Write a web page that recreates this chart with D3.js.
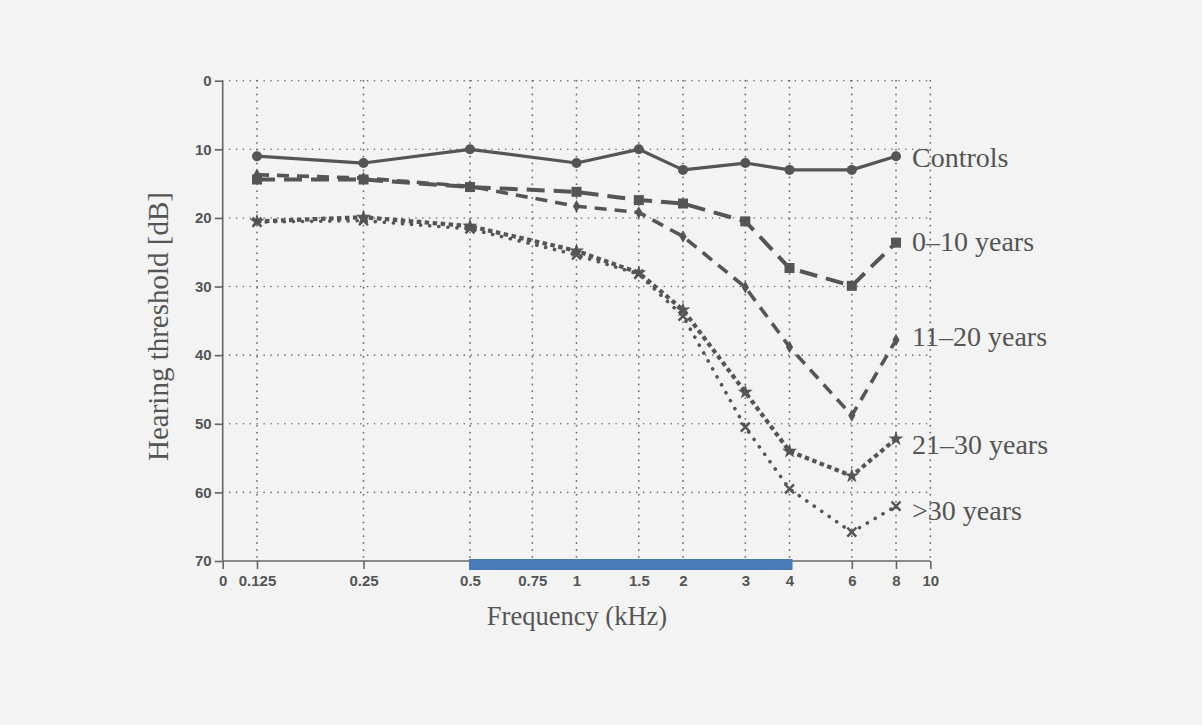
<!DOCTYPE html>
<html>
<head>
<meta charset="utf-8">
<script src="https://cdn.jsdelivr.net/npm/d3@7"></script>
<style>
  html, body { margin: 0; padding: 0; background: #f3f3f3; }
  svg { display: block; }
</style>
</head>
<body>
<svg id="chart" width="1202" height="725"></svg>
<script>
// ---------- data ----------
const freqs = [0.125, 0.25, 0.5, 1, 1.5, 2, 3, 4, 6, 8];
const seriesNames = ["Controls", "0\u201310 years", "11\u201320 years", "21\u201330 years", ">30 years"];
const controls   = [11, 12, 10, 12, 10, 13, 12, 13, 13, 11];
const years0_10  = [14.4, 14.4, 15.5, 16.2, 17.4, 17.9, 20.5, 27.3, 29.9, 23.6];
const years11_20 = [13.7, 14.2, 15.4, 18.3, 19.2, 22.7, 30.1, 38.8, 48.8, 37.8];
const years21_30 = [20.5, 19.9, 21.2, 24.8, 28.0, 33.4, 45.4, 54.0, 57.6, 52.2];
const years30p   = [20.6, 20.4, 21.6, 25.4, 28.2, 34.3, 50.5, 59.5, 65.8, 62.0];
const xTickValues = [0.1, 0.125, 0.25, 0.5, 0.75, 1, 1.5, 2, 3, 4, 6, 8, 10];
const xTickLabels = ["0", "0.125", "0.25", "0.5", "0.75", "1", "1.5", "2", "3", "4", "6", "8", "10"];
const yTickValues = [0, 10, 20, 30, 40, 50, 60, 70];
const highlightBand = [0.5, 4]; // kHz, blue bar on the axis

// ---------- layout ----------
const svg = d3.select("#chart");
const x = d3.scaleLog().domain([0.1, 10]).range([222.7, 930.3]);
const y = d3.scaleLinear().domain([0, 70]).range([80.7, 561]);
const ink = "#555";
const gridInk = "#6f6f6f";

// grid
const g = svg.append("g");
g.selectAll("line.hg").data(yTickValues.filter(v => v < 70)).join("line")
  .attr("x1", x(0.1)).attr("x2", x(10))
  .attr("y1", d => y(d)).attr("y2", d => y(d))
  .attr("stroke", gridInk).attr("stroke-width", 1.6)
  .attr("stroke-dasharray", "0.1,6.8").attr("stroke-linecap", "round");
g.selectAll("line.vg").data(xTickValues.filter(v => v > 0.1)).join("line")
  .attr("x1", d => x(d)).attr("x2", d => x(d))
  .attr("y1", y(0)).attr("y2", y(70))
  .attr("stroke", gridInk).attr("stroke-width", 1.8)
  .attr("stroke-dasharray", "0.1,6.8").attr("stroke-linecap", "round");

// axes
const yAxis = d3.axisLeft(y).tickValues(yTickValues).tickSize(8).tickPadding(3);
const yg = svg.append("g").attr("transform", `translate(${x(0.1)},0)`).call(yAxis);
const xAxis = d3.axisBottom(x).tickValues(xTickValues).tickSize(8).tickPadding(6)
  .tickFormat((d, i) => xTickLabels[i]);
const xg = svg.append("g").attr("transform", `translate(0,${y(70)})`).call(xAxis);
[yg, xg].forEach(a => {
  a.select(".domain").attr("stroke", "#666").attr("stroke-width", 1.6);
  a.selectAll(".tick line").attr("stroke", "#666").attr("stroke-width", 1.6);
  a.selectAll(".tick text").attr("fill", ink)
    .style("font-family", "'Liberation Sans', Arial, sans-serif")
    .style("font-size", "15px").style("font-weight", "bold");
});
yg.select(".domain").attr("d", `M0,${y(0)}V${y(70)}`);
xg.select(".domain").attr("d", `M${x(0.1)},0H${x(10)}`);

// highlight bar
svg.append("rect")
  .attr("x", x(highlightBand[0]) - 1)
  .attr("y", y(70) - 2)
  .attr("width", x(highlightBand[1]) - x(highlightBand[0]) + 4)
  .attr("height", 11)
  .attr("fill", "#4a7bb9");

// series
const series = [
  {name: seriesNames[0], values: controls,   dash: null,       width: 3.2, marker: "circle"},
  {name: seriesNames[1], values: years0_10,  dash: "18,9",     width: 4,   marker: "square"},
  {name: seriesNames[2], values: years11_20, dash: "12,8",     width: 3.6, marker: "diamond"},
  {name: seriesNames[3], values: years21_30, dash: "4.5,3.5",  width: 4.2, marker: "star"},
  {name: seriesNames[4], values: years30p,   dash: "0.1,9",    width: 3.6, marker: "x", cap: "round"}
];
const labelY = [157, 241, 336, 444, 510];

const line = d3.line().x(d => x(d[0])).y(d => y(d[1]));
series.forEach((s, si) => {
  const pts = freqs.map((f, i) => [f, s.values[i]]);
  svg.append("path").datum(pts)
    .attr("d", line).attr("fill", "none")
    .attr("stroke", ink).attr("stroke-width", s.width)
    .attr("stroke-linecap", s.cap || "butt")
    .attr("stroke-linejoin", "round")
    .attr("stroke-dasharray", s.dash);
  const mg = svg.append("g");
  pts.forEach(p => {
    const cx = x(p[0]), cy = y(p[1]);
    if (s.marker === "circle") {
      mg.append("circle").attr("cx", cx).attr("cy", cy).attr("r", 5).attr("fill", ink);
    } else if (s.marker === "square") {
      mg.append("rect").attr("x", cx - 5).attr("y", cy - 5).attr("width", 10).attr("height", 10).attr("fill", ink);
    } else if (s.marker === "diamond") {
      mg.append("path").attr("d", d3.symbol(d3.symbolDiamond, 45)())
        .attr("transform", `translate(${cx},${cy})`).attr("fill", ink);
    } else if (s.marker === "star") {
      mg.append("path").attr("d", d3.symbol(d3.symbolStar, 70)())
        .attr("transform", `translate(${cx},${cy})`).attr("fill", ink);
    } else {
      mg.append("path").attr("d", "M-4.5,-4.5L4.5,4.5M-4.5,4.5L4.5,-4.5")
        .attr("transform", `translate(${cx},${cy})`)
        .attr("stroke", ink).attr("stroke-width", 2.4).attr("fill", "none");
    }
  });
  svg.append("text").attr("x", 912).attr("y", labelY[si])
    .attr("dy", "0.35em")
    .attr("fill", ink)
    .style("font-family", "'Liberation Serif', 'DejaVu Serif', serif")
    .style("font-size", "28px")
    .text(s.name);
});

// axis titles
svg.append("text")
  .attr("transform", `translate(168,326.5) rotate(-90)`)
  .attr("text-anchor", "middle").attr("fill", ink)
  .style("font-family", "'Liberation Serif', 'DejaVu Serif', serif")
  .style("font-size", "29px")
  .text("Hearing threshold [dB]");
svg.append("text")
  .attr("x", 577).attr("y", 625)
  .attr("text-anchor", "middle").attr("fill", ink)
  .style("font-family", "'Liberation Serif', 'DejaVu Serif', serif")
  .style("font-size", "26.5px")
  .text("Frequency (kHz)");
</script>
</body>
</html>
